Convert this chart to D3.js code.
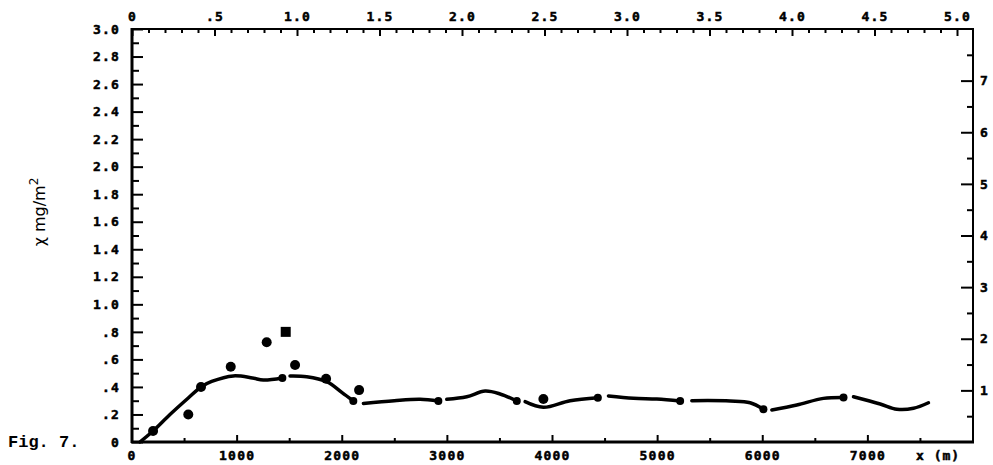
<!DOCTYPE html>
<html><head><meta charset="utf-8">
<script src="https://cdn.jsdelivr.net/npm/d3@7"></script>
<style>
html,body{margin:0;padding:0;background:#fff;}
svg{display:block;}
.tk text{font-family:"DejaVu Sans Mono",monospace;font-weight:bold;font-size:13px;letter-spacing:1.2px;fill:#000;stroke:#000;stroke-width:0.5px;}
</style></head>
<body>
<svg id="c" width="993" height="465"></svg>
<script>
// ---- data ----
const leftTicks = [0,0.2,0.4,0.6,0.8,1.0,1.2,1.4,1.6,1.8,2.0,2.2,2.4,2.6,2.8,3.0];
const leftLabels = ["0",".2",".4",".6",".8","1.0","1.2","1.4","1.6","1.8","2.0","2.2","2.4","2.6","2.8","3.0"];
const topTicks = [0,0.5,1.0,1.5,2.0,2.5,3.0,3.5,4.0,4.5,5.0];
const topLabels = ["0",".5","1.0","1.5","2.0","2.5","3.0","3.5","4.0","4.5","5.0"];
const bottomTicks = [0,1000,2000,3000,4000,5000,6000,7000];
const bottomLabels = ["0","1000","2000","3000","4000","5000","6000","7000"];
const rightTicks = [1,2,3,4,5,6,7];
const rightLabels = ["1","2","3","4","5","6","7"];

// curve segments [x (m), χ mg/m²]
const seg1 = [[80,0],[205,0.08],[366,0.2],[540,0.32],[661,0.40],[763,0.44],[969,0.48],[1150,0.465],[1254,0.45],[1435,0.465]];
const seg2 = [[1508,0.479],[1667,0.474],[1857,0.438],[2000,0.36],[2110,0.298]];
const seg3 = [[2206,0.28],[2500,0.30],[2745,0.31],[2919,0.298]];
const seg4 = [[2999,0.31],[3189,0.329],[3364,0.37],[3506,0.349],[3665,0.298]];
const seg5 = [[3744,0.293],[3918,0.252],[4172,0.30],[4436,0.322]];
const seg6 = [[4537,0.334],[4775,0.317],[4997,0.312],[5219,0.298]];
const seg7 = [[5330,0.30],[5695,0.298],[5885,0.285],[6011,0.238]];
const seg8 = [[6091,0.233],[6329,0.269],[6582,0.317],[6773,0.324]];
const seg9 = [[6868,0.329],[7122,0.276],[7281,0.238],[7439,0.245],[7581,0.285]];
const segments = [seg1,seg2,seg3,seg4,seg5,seg6,seg7,seg8,seg9];

const dots = [[205,0.08],[540,0.20],[661,0.40],[944,0.547],[1286,0.724],[1556,0.559],[1851,0.46],[2165,0.377],[3918,0.312]];
const squares = [[1467,0.80]];

// ---- scales ----
const svg = d3.select("#c");
const x = d3.scaleLinear().domain([0,8000]).range([131.5,972.5]);
const xTop = d3.scaleLinear().domain([0,5]).range([132,957]);
const y = d3.scaleLinear().domain([0,3]).range([442,29]);
const yR = d3.scaleLinear().domain([0,8]).range([442,29]);

// ---- axes ----
function addAxis(axis, tr){
  const g = svg.append("g").attr("class","tk").attr("transform",tr).call(axis);
  g.select(".domain").remove();
  g.selectAll(".tick line").attr("stroke","#000").attr("stroke-width",2);
  return g;
}
// left
addAxis(d3.axisLeft(y).tickValues(leftTicks).tickFormat((d,i)=>leftLabels[i]).tickSize(-11).tickPadding(12),"translate(132,0)");
addAxis(d3.axisLeft(y).tickValues(d3.range(1,30,2).map(v=>v/10)).tickFormat("").tickSize(-7),"translate(132,0)");
// right
addAxis(d3.axisRight(yR).tickValues(rightTicks).tickFormat((d,i)=>rightLabels[i]).tickSize(-12).tickPadding(7),"translate(973,0)");
addAxis(d3.axisRight(yR).tickValues(d3.range(0.5,8,1)).tickFormat("").tickSize(-6),"translate(973,0)");
// top
addAxis(d3.axisTop(xTop).tickValues(topTicks).tickFormat((d,i)=>topLabels[i]).tickSize(-7).tickPadding(8),"translate(0,29)");
addAxis(d3.axisTop(xTop).tickValues(d3.range(1,50).filter(v=>v%5!==0).map(v=>v/10)).tickFormat("").tickSize(-4),"translate(0,29)");
// bottom
addAxis(d3.axisBottom(x).tickValues(bottomTicks).tickFormat((d,i)=>bottomLabels[i]).tickSize(-7).tickPadding(9),"translate(0,442)");
addAxis(d3.axisBottom(x).tickValues(d3.range(500,8000,1000)).tickFormat("").tickSize(-4),"translate(0,442)");

// frame
svg.append("rect").attr("x",132).attr("y",29).attr("width",841).attr("height",413)
  .attr("fill","none").attr("stroke","#000").attr("stroke-width",2);
svg.append("line").attr("x1",132).attr("x2",132).attr("y1",28).attr("y2",443).attr("stroke","#000").attr("stroke-width",3);
svg.append("line").attr("x1",131).attr("x2",974).attr("y1",442).attr("y2",442).attr("stroke","#000").attr("stroke-width",3);

// x (m)
svg.append("text").attr("x",916).attr("y",460).text("x (m)")
  .attr("font-family","DejaVu Sans Mono").attr("font-weight","bold").attr("font-size",13).attr("letter-spacing","1px")
  .attr("stroke","#000").attr("stroke-width",0.5);

// y title
const yt = svg.append("text").attr("transform","translate(45,212) rotate(-90)")
  .attr("text-anchor","middle").attr("font-family","DejaVu Sans").attr("font-size",16).attr("fill","#000");
yt.append("tspan").text("χ mg/m");
yt.append("tspan").attr("baseline-shift","super").attr("font-size",12).text("2");

// Fig. 7.
svg.append("text").attr("x",8).attr("y",447).text("Fig. 7.")
  .attr("font-family","Liberation Mono").attr("font-weight","bold").attr("font-size",17);

// ---- marks ----
const line = d3.line().x(d=>x(d[0])).y(d=>y(d[1])).curve(d3.curveCatmullRom.alpha(0.5));
svg.append("g").selectAll("path").data(segments).join("path")
  .attr("d",line).attr("fill","none").attr("stroke","#000").attr("stroke-width",3.5).attr("stroke-linecap","round");
svg.append("g").selectAll("circle").data(segments.slice(0,8)).join("circle")
  .attr("cx",s=>x(s[s.length-1][0])).attr("cy",s=>y(s[s.length-1][1])).attr("r",4).attr("fill","#000");
svg.append("g").selectAll("circle").data(dots).join("circle")
  .attr("cx",d=>x(d[0])).attr("cy",d=>y(d[1])).attr("r",5).attr("fill","#000");
svg.append("g").selectAll("rect").data(squares).join("rect")
  .attr("x",d=>x(d[0])-5).attr("y",d=>y(d[1])-5).attr("width",10).attr("height",10).attr("fill","#000");
</script>
</body></html>
